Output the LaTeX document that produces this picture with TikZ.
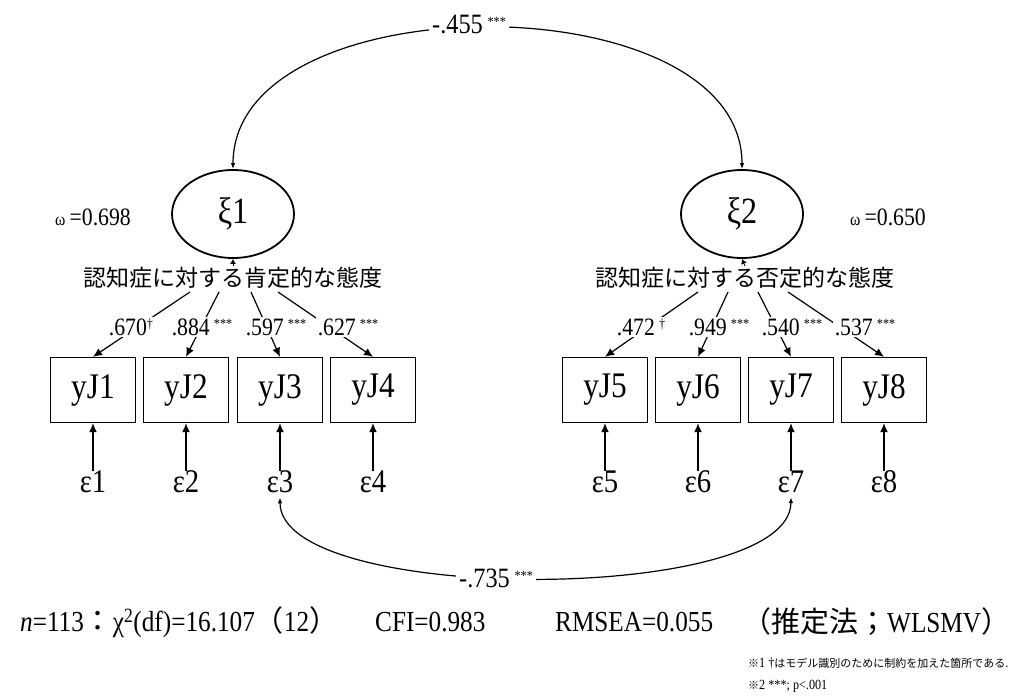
\documentclass[tikz,border=0pt]{standalone}
\usepackage{fontspec}
\setmainfont[FakeStretch=0.87]{Liberation Serif}
\newfontfamily\jp{Noto Sans CJK JP}
\usetikzlibrary{shapes.geometric,arrows.meta}
\newcommand\fs[1]{\fontsize{#1}{#1}\selectfont}
\newcommand\sig[1]{\raisebox{7pt}{\fs{14}#1}}
\begin{document}
\begin{tikzpicture}[x=1pt,y=-1pt,
  latent/.style={draw,ellipse,line width=1.8pt,minimum width=122pt,minimum height=88pt,inner sep=0pt,font=\fs{37}},
  obs/.style={draw,rectangle,line width=1.4pt,minimum width=85pt,minimum height=65pt,inner sep=0pt,font=\fs{36}},
  err/.style={inner sep=1pt,font=\fs{33}},
  load/.style={fill=white,inner sep=1.5pt,font=\fs{25}},
  jlab/.style={font=\jp\fs{23},inner sep=1pt},
  arr/.style={-{Latex[length=9pt,width=8pt]},line width=1.2pt},
  carr/.style={{Latex[length=6pt,width=4.5pt]}-{Latex[length=6pt,width=4.5pt]},line width=1.2pt},
  clab/.style={fill=white,inner sep=3pt,font=\fs{28}},
  fit/.style={anchor=west,inner sep=0pt,font=\fs{29}}]
\useasboundingbox (0,0) rectangle (1022,696);
% latent
\node[latent] (xi1) at (233,214) {ξ1};
\node[latent] (xi2) at (742,214) {ξ2};
\node[font=\fs{25}] (om1) at (93,217) {{\fs{18}ω}\,=0.698};
\node[font=\fs{25}] (om2) at (888,217) {{\fs{18}ω}\,=0.650};
\node[jlab] (lab1) at (233,278) {認知症に対する肯定的な態度};
\node[jlab] (lab2) at (745,278) {認知症に対する否定的な態度};
\draw[-{Latex[length=5pt,width=6pt]},line width=0.8pt] (lab1.north) -- (xi1.south);
\draw[-{Latex[length=5pt,width=6pt]},line width=0.8pt] (lab2.north) -- (xi2.south);
% observed
\foreach \i/\x in {1/93,2/186,3/280,4/373,5/605,6/698,7/791,8/884}{
  \node[obs] (y\i) at (\x,390) {yJ\i};
  \node[err] (e\i) at (\x,482) {ε\i};
  \draw[arr] ([yshift=-1pt]e\i.north) -- (y\i.south);
}
% loading lines
\foreach \i/\x in {1/190,2/219,3/251,4/278,5/698,6/728,7/758,8/788}{
  \coordinate (s\i) at (\x,292);
  \draw[arr] (s\i) -- (y\i.north);
}
\node[load] (l1) at (131,327) {.670\sig{†}};
\node[load] (l2) at (202,327) {.884\,\sig{***}};
\node[load] (l3) at (276,327) {.597\,\sig{***}};
\node[load] (l4) at (348,327) {.627\,\sig{***}};
\node[load] (l5) at (641,327) {.472\,\sig{†}};
\node[load] (l6) at (719,327) {.949\,\sig{***}};
\node[load] (l7) at (792,327) {.540\,\sig{***}};
\node[load] (l8) at (865,327) {.537\,\sig{***}};
% covariances
\draw[carr] (xi1.north) .. controls (233,-19) and (742,-19) .. (xi2.north);
\node[clab] (c1) at (469,24) {-.455\,\sig{***}};
\draw[carr] ([yshift=-3pt]e3.south) .. controls (280,605) and (790,605) .. ([yshift=-3pt]e7.south);
\node[clab] (c2) at (496,578) {-.735\,\sig{***}};
% fit
\node[fit] (f1) at (20,622) {\textit{n}=113{\jp ：}χ\textsuperscript{2}(df)=16.107{\jp （}12{\jp ）}};
\node[fit] (f2) at (375,622) {CFI=0.983};
\node[fit] (f3) at (555,622) {RMSEA=0.055};
\node[fit] (f4) at (742,622) {{\jp （推定法；}WLSMV{\jp ）}};
% notes
\node[anchor=west,inner sep=0pt,font=\fs{14}] (n1) at (748,663) {{\jp\fs{11}※}1 †{\jp\fs{11}はモデル識別のために制約を加えた箇所である.}};
\node[anchor=west,inner sep=0pt,font=\fs{14}] (n2) at (748,686) {{\jp\fs{11}※}2 ***; p<.001};
\end{tikzpicture}
\end{document}
